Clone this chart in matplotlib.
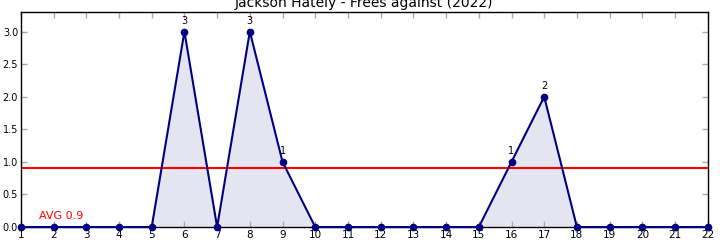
import numpy as np
import matplotlib.pyplot as plt

# Данные по раундам
rounds = list(range(1, 23))
frees = [0, 0, 0, 0, 0, 3, 0, 3, 1, 0, 0, 0, 0, 0, 0, 1, 2, 0, 0, 0, 0, 0]
avg_value = 10 / 11
avg_label = 'AVG 0.9'
title = 'Jackson Hately - Frees against (2022)'

fig = plt.figure(figsize=(7.2, 2.4), dpi=100)
ax = fig.add_axes([0.029, 0.054, 0.954, 0.896])

ax.fill_between(rounds, frees, 0, color='navy', alpha=0.1, linewidth=0)
ax.plot(rounds, frees, color='navy', linewidth=1.5, marker='o', markersize=4.5,
        clip_on=False, zorder=3)

# Подписи ненулевых значений
for r, v in zip(rounds, frees):
    if v > 0:
        ax.annotate(str(v), (r, v), xytext=(0, 4), textcoords='offset points',
                    ha='center', va='bottom', fontsize=7)

ax.axhline(avg_value, color='red', linewidth=1.5)
ax.text(1.55, 0.13, avg_label, color='red', fontsize=8)

ax.set_xlim(1, 22)
ax.set_ylim(0, 3.3)
ax.set_xticks(rounds)
ax.set_yticks(np.arange(0, 3.01, 0.5))
ax.yaxis.set_major_formatter(plt.FormatStrFormatter('%.1f'))
ax.tick_params(direction='in', length=4, color='#aaaaaa', width=1,
               top=True, right=True, labelsize=7, pad=2)
ax.tick_params(axis='x', labelsize=7.5)
for s in ax.spines.values():
    s.set_linewidth(1)

ax.set_title(title, fontsize=10, pad=3.5)

plt.savefig('out.png', dpi=100)
